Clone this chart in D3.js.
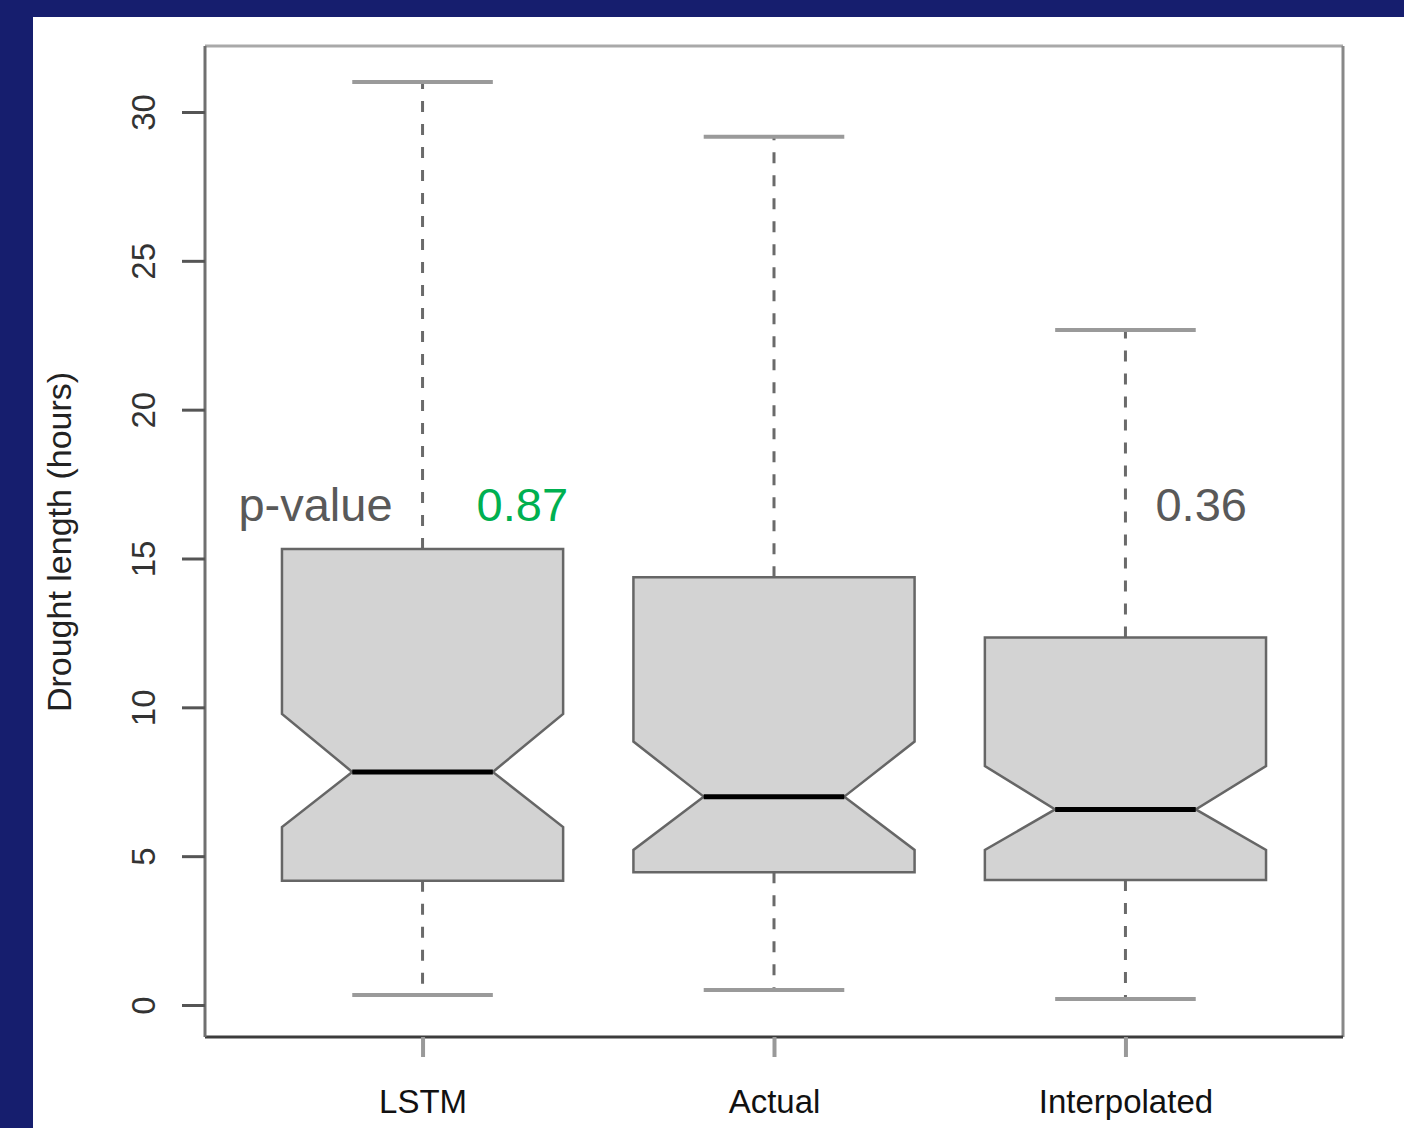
<!DOCTYPE html>
<html>
<head>
<meta charset="utf-8">
<script src="https://d3js.org/d3.v7.min.js"></script>
<style>
  body { margin: 0; background: #161e6e; }
  svg { display: block; font-family: Arial, "Liberation Sans", sans-serif; }
</style>
</head>
<body>
<script>
'use strict';
// values (hours)
const categories = ["LSTM", "Actual", "Interpolated"];
const whiskerLow = [0.34, 0.50, 0.20];
const q1 = [4.17, 4.46, 4.20];
const notchLow = [5.98, 5.21, 5.21];
const median = [7.83, 7.00, 6.57];
const notchHigh = [9.78, 8.85, 8.03];
const q3 = [15.32, 14.37, 12.35];
const whiskerHigh = [31.01, 29.17, 22.68];
const yTicks = [0, 5, 10, 15, 20, 25, 30];
const pValues = ["0.87", "", "0.36"];
const pColors = ["#00b050", "#595959", "#595959"];

(function () {
  const W = 1404, H = 1128;
  const plot = { left: 205, right: 1343, top: 46, bottom: 1037 };

  const svg = d3.select('body').append('svg')
    .attr('width', W)
    .attr('height', H);

  svg.append('rect').attr('width', W).attr('height', H).attr('fill', '#161e6e');
  svg.append('rect').attr('x', 33).attr('y', 17).attr('width', W - 33).attr('height', H - 17).attr('fill', '#ffffff');

  let x = d3.scalePoint()
    .domain(categories)
    .range([plot.left, plot.right])
    .padding(0.619);
  let step = x.step();
  let boxHalf = step * 0.4;
  let notchHalf = boxHalf / 2;

  let y = d3.scaleLinear()
    .domain([0, 30])
    .range([1005, 112]);

  let boxes = categories.map((c, i) => ({
    name: c, lo: whiskerLow[i], q1: q1[i], nlo: notchLow[i], med: median[i],
    nhi: notchHigh[i], q3: q3[i], hi: whiskerHigh[i]
  }));

  // whiskers
  let g = svg.append('g');
  boxes.forEach((d) => {
    let cx = x(d.name);
    g.append('line')
      .attr('x1', cx).attr('x2', cx)
      .attr('y1', y(d.q3)).attr('y2', y(d.hi))
      .attr('stroke', '#6a6a6a').attr('stroke-width', 3)
      .attr('stroke-dasharray', '11,12');
    g.append('line')
      .attr('x1', cx).attr('x2', cx)
      .attr('y1', y(d.q1)).attr('y2', y(d.lo))
      .attr('stroke', '#6a6a6a').attr('stroke-width', 3)
      .attr('stroke-dasharray', '11,12');
    [d.hi, d.lo].forEach((v) => {
      g.append('line')
        .attr('x1', cx - notchHalf).attr('x2', cx + notchHalf)
        .attr('y1', y(v)).attr('y2', y(v))
        .attr('stroke', '#9a9a9a').attr('stroke-width', 4);
    });
  });

  // notched boxes
  boxes.forEach((d) => {
    let cx = x(d.name);
    let pts = [
      [cx - boxHalf, y(d.q3)], [cx + boxHalf, y(d.q3)],
      [cx + boxHalf, y(d.nhi)], [cx + notchHalf, y(d.med)],
      [cx + boxHalf, y(d.nlo)], [cx + boxHalf, y(d.q1)],
      [cx - boxHalf, y(d.q1)], [cx - boxHalf, y(d.nlo)],
      [cx - notchHalf, y(d.med)], [cx - boxHalf, y(d.nhi)]
    ];
    g.append('path')
      .attr('d', d3.line()(pts) + 'Z')
      .attr('fill', '#d3d3d3')
      .attr('stroke', '#666666')
      .attr('stroke-width', 2.5)
      .attr('stroke-linejoin', 'miter');
    g.append('line')
      .attr('x1', cx - notchHalf).attr('x2', cx + notchHalf)
      .attr('y1', y(d.med)).attr('y2', y(d.med))
      .attr('stroke', '#000000').attr('stroke-width', 5);
  });

  // frame
  let frame = svg.append('g').attr('fill', 'none').attr('stroke-width', 3);
  frame.append('line').attr('x1', plot.left).attr('x2', plot.right).attr('y1', plot.top).attr('y2', plot.top).attr('stroke', '#a9a9a9');
  frame.append('line').attr('x1', plot.right).attr('x2', plot.right).attr('y1', plot.top).attr('y2', plot.bottom).attr('stroke', '#888888');
  frame.append('line').attr('x1', plot.left).attr('x2', plot.right).attr('y1', plot.bottom).attr('y2', plot.bottom).attr('stroke', '#3c3c3c');
  frame.append('line').attr('x1', plot.left).attr('x2', plot.left).attr('y1', plot.top).attr('y2', plot.bottom).attr('stroke', '#707070');

  // y axis
  let yAxis = d3.axisLeft(y).tickValues(yTicks).tickSize(23).tickPadding(0).tickFormat(d3.format('d'));
  let ya = svg.append('g')
    .attr('transform', 'translate(' + plot.left + ',0)')
    .call(yAxis);
  ya.select('.domain').remove();
  ya.selectAll('.tick line').attr('stroke', '#555555').attr('stroke-width', 3);
  ya.selectAll('.tick text')
    .attr('x', null).attr('dy', null)
    .attr('transform', 'translate(-50,0) rotate(-90)')
    .attr('text-anchor', 'middle')
    .attr('fill', '#333333')
    .style('font-size', '33px');

  // x axis
  let xAxis = d3.axisBottom(x).tickSize(20).tickPadding(0);
  let xa = svg.append('g')
    .attr('transform', 'translate(0,' + plot.bottom + ')')
    .call(xAxis);
  xa.select('.domain').remove();
  xa.selectAll('.tick line').attr('stroke', '#999999').attr('stroke-width', 4);
  xa.selectAll('.tick text')
    .attr('y', 76).attr('dy', null)
    .attr('fill', '#111111')
    .style('font-size', '33px');

  // y title
  svg.append('text')
    .attr('transform', 'translate(71,542) rotate(-90)')
    .attr('text-anchor', 'middle')
    .attr('fill', '#222222')
    .style('font-size', '34px')
    .text('Drought length (hours)');

  // p-value annotations
  svg.append('text')
    .attr('x', x(categories[0]) - 30)
    .attr('y', y(16.26))
    .attr('text-anchor', 'end')
    .attr('fill', '#595959')
    .style('font-size', '47px')
    .text('p-value');
  let offs = [54, 0, 30];
  categories.forEach((c, i) => {
    if (!pValues[i]) return;
    svg.append('text')
      .attr('x', x(c) + offs[i])
      .attr('y', y(16.26))
      .attr('fill', pColors[i])
      .style('font-size', '47px')
      .text(pValues[i]);
  });
})();
</script>
</body>
</html>
